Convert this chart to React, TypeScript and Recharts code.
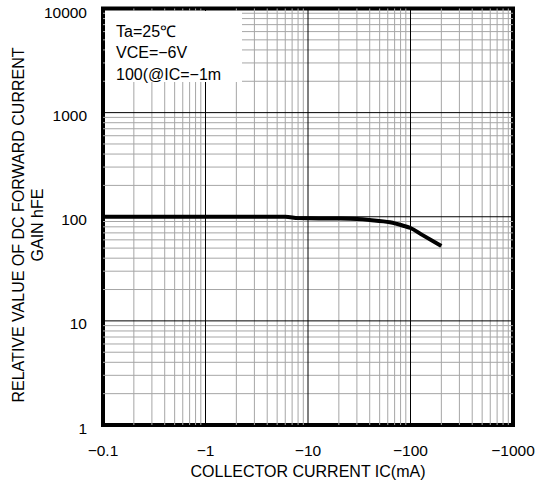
import { LineChart, Line, XAxis, YAxis, ReferenceLine, ReferenceArea } from 'recharts';

// collector current magnitude (mA); the axis prints them negative
const current = [0.1, 1, 6, 8, 10, 20, 30, 40, 63, 85, 100, 130, 200];
const hfe = [100, 100, 100, 97, 96.5, 96, 95, 93, 88.5, 82, 78, 67, 52.5];

const xTicks = [0.1, 1, 10, 100, 1000];
const yTicks = [1, 10, 100, 1000, 10000];
const conditions = ['Ta=25\u2103', 'VCE=\u22126V', '100(@IC=\u22121m'];

const data = current.map((ic, i) => ({ ic, hfe: hfe[i] }));

// minor grid values: 2..9 inside every decade
const minorOf = (majors: number[]) =>
  majors.slice(0, -1).flatMap((m) => [2, 3, 4, 5, 6, 7, 8, 9].map((k) => +(m * k).toPrecision(3)));

const font = 'Arial, "Liberation Sans", sans-serif';

function YTitle() {
  return (
    <g fontFamily={font} fontSize={16} fill="#000" textAnchor="middle">
      <text transform="translate(24,225) rotate(-90)">RELATIVE VALUE OF DC FORWARD CURRENT</text>
      <text transform="translate(43,225) rotate(-90)">GAIN hFE</text>
    </g>
  );
}

export default function App() {
  return (
    <div style={{ position: 'absolute', left: 0, top: 0, width: 535, height: 481, background: '#fff' }}>
      <LineChart width={535} height={481} data={data} margin={{ top: 8.5, right: 22, bottom: 0, left: 0 }}>
        <XAxis
          dataKey="ic"
          type="number"
          scale="log"
          domain={[0.1, 1000]}
          ticks={xTicks}
          allowDataOverflow
          axisLine={false}
          tickLine={false}
          tickSize={0}
          tickMargin={20}
          height={56}
          tickFormatter={(v: number) => `\u2212${v}`}
          tick={{ fill: '#000', fontSize: 15.5, fontFamily: font }}
          label={{ value: 'COLLECTOR CURRENT IC(mA)', position: 'insideBottom', offset: 4, fill: '#000', fontSize: 16, fontFamily: font }}
        />
        <YAxis
          type="number"
          scale="log"
          domain={[1, 10000]}
          ticks={yTicks}
          allowDataOverflow
          axisLine={false}
          tickLine={false}
          tickSize={0}
          tickMargin={16}
          width={103}
          tick={{ fill: '#000', fontSize: 15.5, fontFamily: font, dy: 3 }}
          label={{ content: () => <YTitle /> }}
        />
        {minorOf(xTicks).map((v) => (
          <ReferenceLine key={`mx${v}`} x={v} stroke="#a6a6a6" strokeWidth={1} />
        ))}
        {minorOf(yTicks).map((v) => (
          <ReferenceLine key={`my${v}`} y={v} stroke="#a6a6a6" strokeWidth={1} />
        ))}
        {xTicks.slice(1, -1).map((v) => (
          <ReferenceLine key={`x${v}`} x={v} stroke="#000" strokeWidth={1} />
        ))}
        {yTicks.slice(1, -1).map((v) => (
          <ReferenceLine key={`y${v}`} y={v} stroke="#000" strokeWidth={1} />
        ))}
        <Line
          dataKey="hfe"
          type="monotone"
          stroke="#000"
          strokeWidth={4}
          dot={false}
          isAnimationActive={false}
        />
        <ReferenceArea x1={0.1} x2={1000} y1={1} y2={10000} fill="none" stroke="#000" strokeWidth={4} />
      </LineChart>
      <div
        style={{
          position: 'absolute',
          left: 105,
          top: 10.5,
          width: 126,
          height: 61,
          padding: '10px 0 0 11px',
          background: '#fff',
          fontFamily: font,
          fontSize: 16,
          lineHeight: '21.5px',
          color: '#000',
        }}
      >
        {conditions.map((c) => (
          <div key={c} style={{ whiteSpace: 'nowrap' }}>{c}</div>
        ))}
      </div>
    </div>
  );
}
